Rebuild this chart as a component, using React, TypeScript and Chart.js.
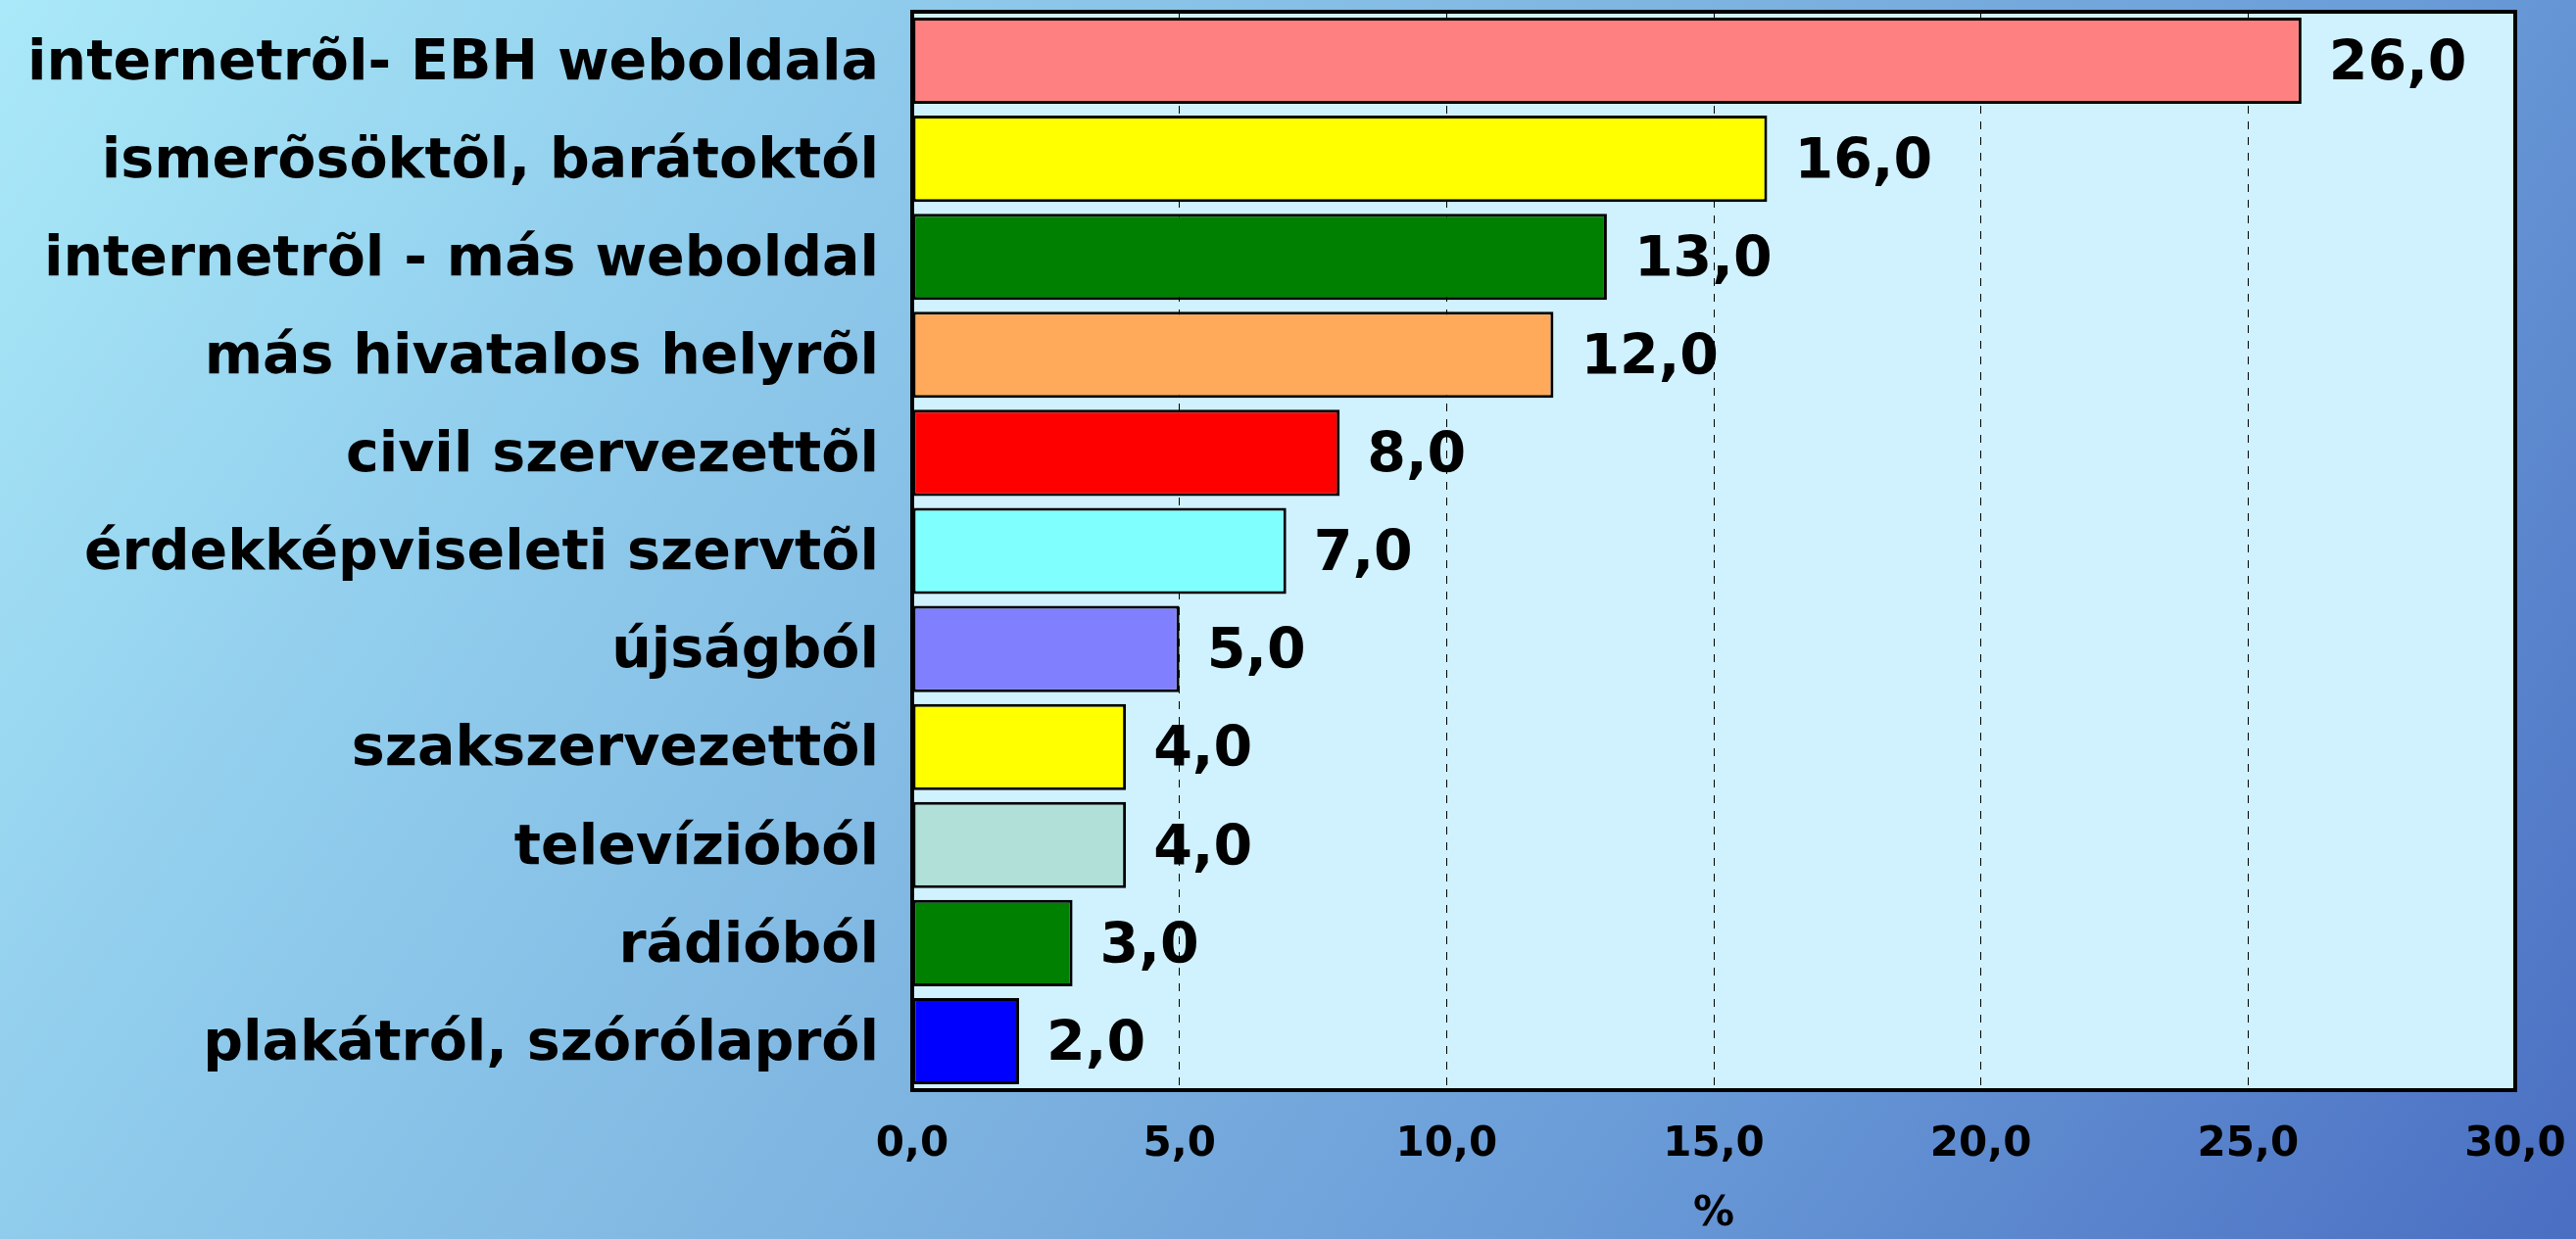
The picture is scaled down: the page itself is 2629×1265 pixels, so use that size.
import React, { useEffect, useRef } from "react";
import { Chart, registerables } from "chart.js";

Chart.register(...registerables);

const categories = [
  "internetrõl- EBH weboldala",
  "ismerõsöktõl, barátoktól",
  "internetrõl - más weboldal",
  "más hivatalos helyrõl",
  "civil szervezettõl",
  "érdekképviseleti szervtõl",
  "újságból",
  "szakszervezettõl",
  "televízióból",
  "rádióból",
  "plakátról, szórólapról",
];

const values = [26.0, 16.0, 13.0, 12.0, 8.0, 7.0, 5.0, 4.0, 4.0, 3.0, 2.0];

const barColors = [
  "#FF8080",
  "#FFFF00",
  "#008000",
  "#FFAA5A",
  "#FF0000",
  "#80FFFF",
  "#8080FF",
  "#FFFF00",
  "#B0E0D8",
  "#008000",
  "#0000FF",
];

const xMin = 0;
const xMax = 30;
const xStep = 5;
const xTitle = "%";

const FONT = "'DejaVu Sans', Verdana, sans-serif";

const fmt = (v: number) => v.toFixed(1).replace(".", ",");

const plotBgPlugin = {
  id: "plotBg",
  beforeDraw(chart: any) {
    const { ctx, chartArea } = chart;
    if (!chartArea) return;
    ctx.save();
    ctx.fillStyle = "#D0F1FE";
    ctx.fillRect(chartArea.left, chartArea.top, chartArea.right - chartArea.left, chartArea.bottom - chartArea.top);
    ctx.restore();
  },
  afterDraw(chart: any) {
    const { ctx, chartArea } = chart;
    if (!chartArea) return;
    ctx.save();
    ctx.strokeStyle = "#000000";
    ctx.lineWidth = 4;
    ctx.strokeRect(chartArea.left, chartArea.top, chartArea.right - chartArea.left, chartArea.bottom - chartArea.top);
    ctx.restore();
  },
};

const valueLabelPlugin = {
  id: "valueLabels",
  afterDatasetsDraw(chart: any) {
    const { ctx } = chart;
    const meta = chart.getDatasetMeta(0);
    const data = chart.data.datasets[0].data as number[];
    ctx.save();
    ctx.fillStyle = "#000000";
    ctx.font = `bold 57px ${FONT}`;
    ctx.textAlign = "left";
    ctx.textBaseline = "middle";
    meta.data.forEach((el: any, i: number) => {
      ctx.fillText(fmt(data[i]), el.x + 28, el.y + 5);
    });
    ctx.restore();
  },
};

export default function App() {
  const canvasRef = useRef<HTMLCanvasElement | null>(null);

  useEffect(() => {
    document.body.style.margin = "0";
    const canvas = canvasRef.current;
    if (!canvas) return;
    const chart = new Chart(canvas, {
      type: "bar",
      data: {
        labels: categories,
        datasets: [
          {
            data: values,
            backgroundColor: barColors,
            borderColor: "#000000",
            borderWidth: 3,
            borderSkipped: false,
            barPercentage: 0.88,
            categoryPercentage: 1.0,
          },
        ],
      },
      options: {
        indexAxis: "y",
        responsive: false,
        animation: false,
        maintainAspectRatio: false,
        layout: { padding: { top: 12, right: 62, left: 0, bottom: 0 } },
        plugins: {
          legend: { display: false },
          tooltip: { enabled: false },
          title: { display: false },
        },
        scales: {
          x: {
            type: "linear",
            min: xMin,
            max: xMax,
            ticks: {
              stepSize: xStep,
              color: "#000000",
              font: { family: FONT, size: 42, weight: "bold" },
              padding: 31,
              callback: (v: any) => fmt(Number(v)),
              maxRotation: 0,
            },
            grid: {
              drawTicks: false,
              color: (c: any) => (c.tick && (c.tick.value === xMin || c.tick.value === xMax) ? "rgba(0,0,0,0)" : "#000000"),
              lineWidth: 1,
            },
            border: { display: true, color: "#000000", width: 4, dash: [8, 8] } as any,
            title: {
              display: true,
              text: xTitle,
              color: "#000000",
              font: { family: FONT, size: 42, weight: "bold" },
              padding: { top: 30, bottom: 0 },
            },
            afterFit: (scale: any) => {
              scale.height = 152;
              scale.paddingLeft = 0;
              scale.paddingRight = 0;
            },
          },
          y: {
            type: "category",
            ticks: {
              color: "#000000",
              font: { family: FONT, size: 57, weight: "bold" },
              padding: 34,
              labelOffset: 4,
              autoSkip: false,
            },
            grid: { display: false, drawTicks: false },
            border: { display: true, color: "#000000", width: 4 },
            afterFit: (scale: any) => {
              scale.width = 931;
              scale.paddingTop = 0;
              scale.paddingBottom = 0;
            },
          },
        },
      } as any,
      plugins: [plotBgPlugin, valueLabelPlugin],
    });
    return () => chart.destroy();
  }, []);

  return (
    <div
      style={{
        position: "absolute",
        left: 0,
        top: 0,
        width: 2629,
        height: 1265,
        background:
          "linear-gradient(125deg, #AAE9F8 0%, #90CCEC 25%, #7DB3E0 50%, #6A9CD8 70%, #4A6EC2 100%)",
      }}
    >
      <canvas ref={canvasRef} width={2629} height={1265} style={{ display: "block" }} />
    </div>
  );
}
